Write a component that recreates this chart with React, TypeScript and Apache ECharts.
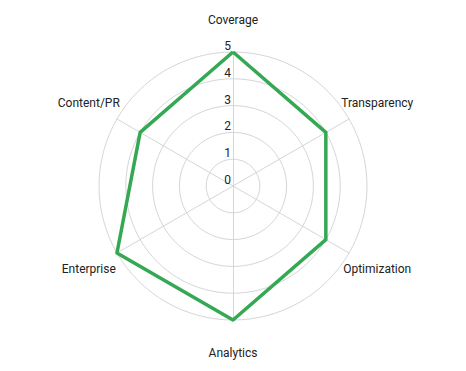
import React, { useEffect, useRef } from "react";
import * as echarts from "echarts";

// Categories listed clockwise starting from the top, as in the chart
const categories: string[] = ["Coverage", "Transparency", "Optimization", "Analytics", "Enterprise", "Content/PR"];
const scores: number[] = [5, 4, 4, 5, 5, 4];
const scaleMax = 5;
const seriesName = "Score";

export default function App() {
  const ref = useRef<HTMLDivElement>(null);
  useEffect(() => {
    if (!ref.current) return;
    const chart = echarts.init(ref.current, undefined, { renderer: "svg" });
    // ECharts radar runs counter-clockwise; reorder so the picture reads clockwise
    const order = [0, ...categories.map((_, i) => i).slice(1).reverse()];
    const indicator = order.map((i, k) => ({
      name: categories[i],
      max: scaleMax,
      min: 0,
      ...(k === 0
        ? {
            axisLabel: {
              show: true,
              color: "#222",
              fontSize: 12,
              fontFamily: "Roboto",
              margin: 2,
              align: "right",
              verticalAlign: "bottom",
            },
          }
        : {}),
    }));
    chart.setOption({
      animation: false,
      textStyle: { fontFamily: "Roboto" },
      radar: {
        center: [233, 186],
        radius: 134,
        startAngle: 90,
        shape: "circle",
        splitNumber: 5,
        indicator,
        nameGap: 32.5,
        axisName: {
          color: "#222",
          fontSize: 12,
          fontFamily: "Roboto",
          align: "center",
          verticalAlign: "middle",
        },
        axisLabel: { show: false },
        axisTick: { show: false },
        axisLine: { show: true, lineStyle: { color: "#d6d6d6", width: 1 } },
        splitLine: { show: true, lineStyle: { color: "#d6d6d6", width: 1 } },
        splitArea: { show: false },
      },
      series: [
        {
          type: "radar",
          name: seriesName,
          symbol: "none",
          lineStyle: { color: "#34a853", width: 3.5 },
          data: [{ value: order.map((i) => scores[i]), name: seriesName }],
        },
      ],
    });
    return () => chart.dispose();
  }, []);
  return <div ref={ref} style={{ position: "absolute", left: 0, top: 0, width: 466, height: 371 }} />;
}
